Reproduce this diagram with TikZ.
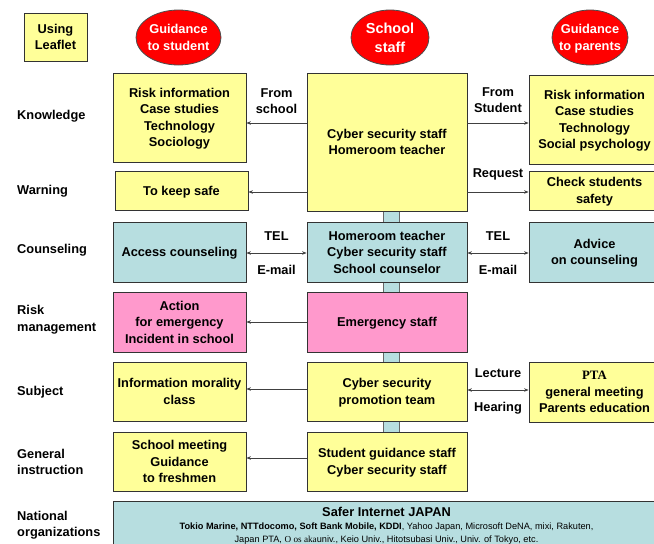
\documentclass[tikz,border=0pt]{standalone}
\usepackage{fontspec}
\setmainfont{Liberation Sans}
\newfontfamily\seriffont{Liberation Serif}
\usetikzlibrary{arrows.meta,shapes.geometric}
\definecolor{leafyellow}{RGB}{255,255,153}
\definecolor{counselblue}{RGB}{183,222,224}
\definecolor{alertpink}{RGB}{255,153,204}
\definecolor{headred}{RGB}{255,0,0}

\begin{document}
\begin{tikzpicture}[x=1pt,y=-1pt,
	every node/.style={font=\fontsize{12.8}{16.5}\selectfont\bfseries, align=center, inner sep=2pt},
	plainbox/.style={rectangle, draw=black!80, line width=0.8pt, text depth=-7pt},
	yellowbox/.style={plainbox, fill=leafyellow},
	bluebox/.style={plainbox, fill=counselblue},
	pinkbox/.style={plainbox, fill=alertpink},
	headoval/.style={ellipse, draw=black!70, line width=0.8pt, fill=headred, text=white, inner xsep=-6pt, inner ysep=0pt, minimum height=55pt, text depth=-7pt},
	rowlabel/.style={anchor=west, align=left, text depth=-3pt},
	link/.style={draw=black!75, line width=0.7pt, -{Stealth[length=4.5pt,width=3.5pt]}},
	twoway/.style={link, {Stealth[length=4.5pt,width=3.5pt]}-{Stealth[length=4.5pt,width=3.5pt]}}]
		\useasboundingbox (0,0) rectangle (654,544);
		\filldraw[fill=counselblue, draw=black!60, line width=0.5pt] (383,211) rectangle (399,491);

		\node[yellowbox, minimum width=63pt, minimum height=48pt] (leaflet) at (55.5,37) {Using\\Leaflet};
		\node[headoval, minimum width=85pt] (tostudent) at (178.5,37.5) {Guidance\\to student};
		\node[headoval, minimum width=78pt, text depth=-4pt, font=\fontsize{14.5}{19}\selectfont\bfseries] (schoolstaff) at (390,37.5) {School\\staff};
		\node[headoval, minimum width=76pt] (toparents) at (590,37.5) {Guidance\\to parents};

		\node[rowlabel] (knowlabel) at (15,115) {Knowledge};
		\node[rowlabel] (warnlabel) at (15,190) {Warning};
		\node[rowlabel] (counlabel) at (15,249) {Counseling};
		\node[rowlabel] (risklabel) at (15,318.5) {Risk\\management};
		\node[rowlabel] (subjlabel) at (15,391) {Subject};
		\node[rowlabel] (genlabel) at (15,462) {General\\instruction};
		\node[rowlabel] (natlabel) at (15,524) {National\\organizations};

		\node[yellowbox, minimum width=133pt, minimum height=89pt] (leftknow) at (179.5,117.5) {Risk information\\Case studies\\Technology\\Sociology};
		\node[yellowbox, minimum width=133pt, minimum height=39pt] (keepsafe) at (181.5,190.5) {To keep safe};
		\node[yellowbox, minimum width=160pt, minimum height=138pt] (cyberstaff) at (387,142) {Cyber security staff\\Homeroom teacher};
		\node[yellowbox, minimum width=131pt, minimum height=89pt] (rightknow) at (594.5,119.5) {Risk information\\Case studies\\Technology\\Social psychology};
		\node[yellowbox, minimum width=131pt, minimum height=39pt] (checksafe) at (594.5,190.5) {Check students\\safety};

		\node[bluebox, minimum width=133pt, minimum height=60pt] (accesscoun) at (179.5,252) {Access counseling};
		\node[bluebox, minimum width=160pt, minimum height=60pt] (counstaff) at (387,252) {Homeroom teacher\\Cyber security staff\\School counselor};
		\node[bluebox, minimum width=131pt, minimum height=60pt] (advice) at (594.5,252) {Advice\\on counseling};

		\node[pinkbox, minimum width=133pt, minimum height=60pt] (action) at (179.5,322) {Action\\for emergency\\Incident in school};
		\node[pinkbox, minimum width=160pt, minimum height=60pt] (emergency) at (387,322) {Emergency staff};

		\node[yellowbox, minimum width=133pt, minimum height=59pt] (morality) at (179.5,391.5) {Information morality\\class};
		\node[yellowbox, minimum width=160pt, minimum height=59pt] (promotion) at (387,391.5) {Cyber security\\promotion team};
		\node[yellowbox, minimum width=131pt, minimum height=60pt] (pta) at (594.5,392) {{\seriffont\bfseries PTA}\\general meeting\\Parents education};

		\node[yellowbox, minimum width=133pt, minimum height=59pt] (freshmen) at (179.5,461.5) {School meeting\\Guidance\\to freshmen};
		\node[yellowbox, minimum width=160pt, minimum height=59pt] (guidestaff) at (387,461.5) {Student guidance staff\\Cyber security staff};

		\node[bluebox, minimum width=547pt, minimum height=48pt, text depth=-4pt, font=\fontsize{9.2}{13}\selectfont] (safer) at (386.5,525) {{\fontsize{12.8}{15}\selectfont\bfseries Safer Internet JAPAN}\\{\bfseries Tokio Marine, NTTdocomo, Soft Bank Mobile, KDDI}, Yahoo Japan, Microsoft DeNA, mixi, Rakuten,\\Japan PTA, {\seriffont O os aka}univ., Keio Univ., Hitotsubasi Univ., Univ. of Tokyo, etc.};

		\draw[link] (cyberstaff.west |- 0,123) -- node[above=7pt] {From\\school} (leftknow.east |- 0,123);
		\draw[link] (cyberstaff.west |- 0,192) -- (keepsafe.east |- 0,192);
		\draw[link] (cyberstaff.east |- 0,123) -- node[above=8pt] {From\\Student} (rightknow.west |- 0,123);
		\draw[link] (cyberstaff.east |- 0,192) -- node[above=9pt] {Request} (checksafe.west |- 0,192);
		\draw[twoway] (accesscoun.east |- 0,253) -- node[above=10pt] {TEL} node[below=10pt] {E-mail} (counstaff.west |- 0,253);
		\draw[twoway] (counstaff.east |- 0,253) -- node[above=10pt] {TEL} node[below=10pt] {E-mail} (advice.west |- 0,253);
		\draw[link] (emergency.west |- 0,322) -- (action.east |- 0,322);
		\draw[link] (promotion.west |- 0,389) -- (morality.east |- 0,389);
		\draw[twoway] (promotion.east |- 0,390) -- node[above=10pt] {Lecture} node[below=10pt] {Hearing} (pta.west |- 0,390);
		\draw[link] (guidestaff.west |- 0,458) -- (freshmen.east |- 0,458);
	\end{tikzpicture}
\end{document}
